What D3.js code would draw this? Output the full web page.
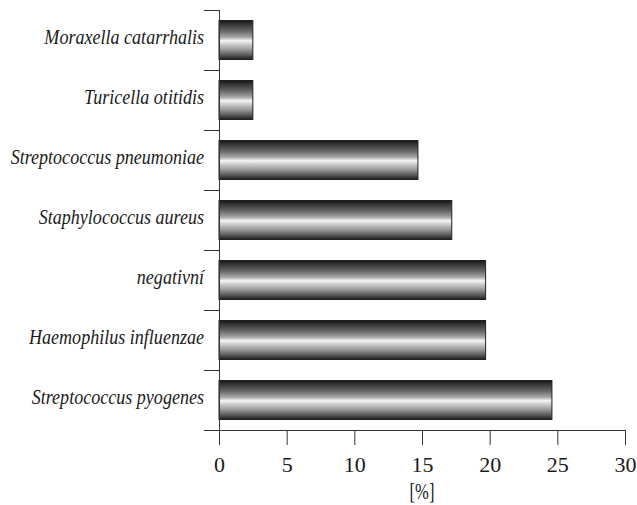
<!DOCTYPE html>
<html>
<head>
<meta charset="utf-8">
<script src="https://cdn.jsdelivr.net/npm/d3@7"></script>
<style>
  html, body { margin: 0; padding: 0; background: #fff; }
  svg { display: block; }
  text { font-family: "Liberation Serif", "DejaVu Serif", serif; fill: #1a1a1a; }
</style>
</head>
<body>
<svg id="chart" width="637" height="505"></svg>
<script>
// Pathogens, top to bottom
const categories = [
  "Moraxella catarrhalis",
  "Turicella otitidis",
  "Streptococcus pneumoniae",
  "Staphylococcus aureus",
  "negativní",
  "Haemophilus influenzae",
  "Streptococcus pyogenes"
];
// Share of samples [%]
const values = [2.5, 2.5, 14.7, 17.2, 19.7, 19.7, 24.6];
const xTicks = [0, 5, 10, 15, 20, 25, 30];
const xTitle = "[%]";

const W = 637, H = 505;
const margin = { top: 10, right: 12, bottom: 75, left: 219 };
const svg = d3.select("#chart");

const x = d3.scaleLinear().domain([0, 30]).range([margin.left, W - margin.right]);
const y = d3.scaleBand().domain(categories)
  .range([margin.top, H - margin.bottom])
  .paddingInner(0.35).paddingOuter(0.175);

// Cylinder-like shading for the bars
const defs = svg.append("defs");
const grad = defs.append("linearGradient")
  .attr("id", "barShade").attr("x1", 0).attr("y1", 0).attr("x2", 0).attr("y2", 1);
[
  [0, "#131313"], [0.1, "#363636"], [0.27, "#666"], [0.43, "#a8a8a8"],
  [0.52, "#f6f6f6"], [0.6, "#d0d0d0"], [0.75, "#979797"], [0.9, "#525252"], [1, "#1a1a1a"]
].forEach(([o, c]) => grad.append("stop").attr("offset", o).attr("stop-color", c));

// Bars
svg.append("g").selectAll("rect")
  .data(categories)
  .join("rect")
  .attr("x", x(0))
  .attr("y", d => y(d))
  .attr("width", (d, i) => x(values[i]) - x(0))
  .attr("height", y.bandwidth())
  .attr("fill", "url(#barShade)")
  .attr("stroke", "#222")
  .attr("stroke-width", 1);

// Category axis: vertical line with separators between bands
const step = y.step();
const bounds = d3.range(categories.length).map(i => margin.top + i * step);
const yAxisG = svg.append("g").attr("stroke", "#333").attr("stroke-width", 1);
yAxisG.append("line")
  .attr("x1", x(0) + 0.5).attr("x2", x(0) + 0.5)
  .attr("y1", margin.top).attr("y2", H - margin.bottom);
yAxisG.selectAll("line.sep")
  .data(bounds)
  .join("line").attr("class", "sep")
  .attr("x1", x(0) - 15).attr("x2", x(0))
  .attr("y1", d => Math.round(d) + 0.5).attr("y2", d => Math.round(d) + 0.5);

// Category labels (narrow italic set)
svg.append("g").selectAll("text")
  .data(categories)
  .join("text")
  .attr("transform", d => `translate(${x(0) - 15},${y(d) + y.bandwidth() / 2}) scale(0.86,1)`)
  .attr("dy", "0.2em")
  .attr("text-anchor", "end")
  .attr("font-style", "italic")
  .attr("font-size", 21)
  .text(d => d);

// Value axis
const xAxis = d3.axisBottom(x).tickValues(xTicks).tickSizeInner(15).tickSizeOuter(0).tickPadding(11);
const xg = svg.append("g")
  .attr("transform", `translate(0,${H - margin.bottom})`)
  .call(xAxis);
xg.select(".domain").attr("stroke", "#333");
xg.selectAll(".tick line").attr("stroke", "#333");
xg.selectAll(".tick text").attr("font-size", 22).attr("fill", "#1a1a1a");
// extend baseline to the left like the band separators
xg.append("line")
  .attr("x1", x(0) - 15).attr("x2", x(0))
  .attr("y1", 0.5).attr("y2", 0.5)
  .attr("stroke", "#333");

svg.append("text")
  .attr("transform", `translate(${x(15)},499) scale(0.72,1)`)
  .attr("text-anchor", "middle")
  .attr("font-size", 23)
  .text(xTitle);
</script>
</body>
</html>
